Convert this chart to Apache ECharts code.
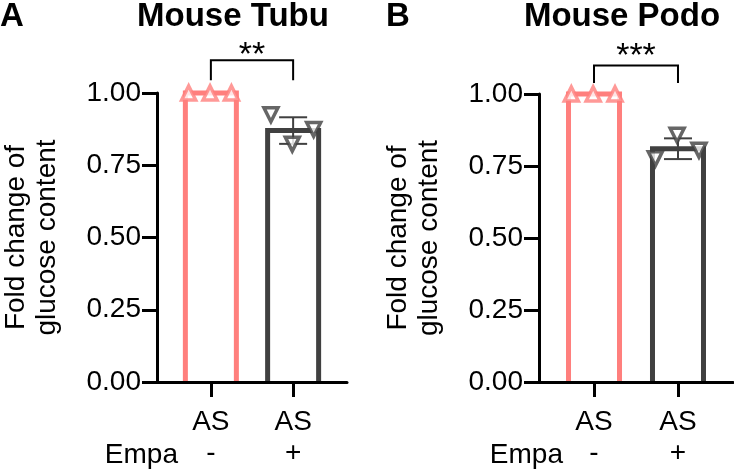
<!DOCTYPE html>
<html>
<head>
<meta charset="utf-8">
<script src="https://cdn.jsdelivr.net/npm/echarts@6/dist/echarts.min.js"></script>
<style>
html, body { margin: 0; padding: 0; background: #fff; }
#box { width: 734px; height: 469px; }
</style>
</head>
<body>
<div id="box"></div>
<script>
var groups = ['AS', 'AS']
var empa = ['-', '+']
var groupX = [1, 2]

// A - Mouse Tubu
var tubuMean = [1.0, 0.87]
var tubuSD = [0, 0.046]
var tubuPoints = [
  [1.0, 1.0, 1.0],
  [0.925, 0.823, 0.874]
]
// x1, x2, bracket top, bracket ends, stars level
var tubuBracket = [1, 2, 1.113, 1.044, 1.157]
var tubuStars = '**'

// B - Mouse Podo
var podoMean = [1.0, 0.81]
var podoSD = [0, 0.036]
var podoPoints = [
  [1.0, 1.0, 1.0],
  [0.775, 0.857, 0.805]
]
var podoBracket = [1, 2, 1.099, 1.038, 1.159]
var podoStars = '***'

var jitter = [-0.27, -0.01, 0.25]

var pink = '#FF7F7D'
var dark = '#404040'
var colors = [pink, dark]
var font = 'Liberation Sans, Arial, sans-serif'

// open bars: left, top and right sides only
function barSeries(idx, means) {
  return {
    type: 'custom',
    xAxisIndex: idx,
    yAxisIndex: idx,
    z: 2,
    silent: true,
    data: means.map(function (m, i) { return [groupX[i], m] }),
    renderItem: function (params, api) {
      var base = api.coord([api.value(0), 0])
      var top = api.coord([api.value(0), api.value(1)])
      var h = 25.5
      return {
        type: 'polyline',
        shape: {
          points: [[base[0] - h, base[1]], [top[0] - h, top[1]], [top[0] + h, top[1]], [base[0] + h, base[1]]]
        },
        style: { stroke: colors[params.dataIndex], lineWidth: 5, fill: null, lineJoin: 'miter' }
      }
    }
  }
}

function errSeries(idx, means, sds) {
  return {
    type: 'custom',
    xAxisIndex: idx,
    yAxisIndex: idx,
    z: 3,
    silent: true,
    data: means.map(function (m, i) {
      return [groupX[i], m - sds[i], m + sds[i]]
    }),
    renderItem: function (params, api) {
      var lo = api.coord([api.value(0), api.value(1)])
      var hi = api.coord([api.value(0), api.value(2)])
      if (Math.abs(hi[1] - lo[1]) < 1) return
      var w = 14
      var st = { stroke: dark, lineWidth: 2 }
      return {
        type: 'group',
        children: [
          { type: 'line', shape: { x1: lo[0], y1: lo[1], x2: hi[0], y2: hi[1] }, style: st },
          { type: 'line', shape: { x1: lo[0] - w, y1: lo[1], x2: lo[0] + w, y2: lo[1] }, style: st },
          { type: 'line', shape: { x1: hi[0] - w, y1: hi[1], x2: hi[0] + w, y2: hi[1] }, style: st }
        ]
      }
    }
  }
}

function pointSeries(idx, points) {
  var data = []
  points.forEach(function (arr, i) {
    arr.forEach(function (v, j) {
      data.push({
        value: [groupX[i] + jitter[j], v],
        symbolRotate: i === 0 ? 0 : 180,
        itemStyle: { color: '#fff', borderColor: colors[i], borderWidth: 3.5 }
      })
    })
  })
  return {
    type: 'scatter',
    xAxisIndex: idx,
    yAxisIndex: idx,
    symbol: 'triangle',
    symbolSize: 14,
    clip: false,
    z: 4,
    silent: true,
    data: data
  }
}

function bracketSeries(idx, br, stars) {
  return {
    type: 'custom',
    xAxisIndex: idx,
    yAxisIndex: idx,
    clip: false,
    z: 4,
    silent: true,
    data: [br],
    renderItem: function (params, api) {
      var a = api.coord([api.value(0), api.value(3)])
      var b = api.coord([api.value(0), api.value(2)])
      var c = api.coord([api.value(1), api.value(2)])
      var d = api.coord([api.value(1), api.value(3)])
      var s = api.coord([api.value(0), api.value(4)])
      return {
        type: 'group',
        children: [
          {
            type: 'polyline',
            shape: { points: [a, b, c, d] },
            style: { stroke: '#000', lineWidth: 2, fill: null }
          },
          {
            type: 'text',
            x: (b[0] + c[0]) / 2,
            y: s[1] + 8,
            style: {
              text: stars, fill: '#000', fontSize: 34, fontFamily: font,
              align: 'center', verticalAlign: 'middle'
            }
          }
        ]
      }
    }
  }
}

function xAxis(idx) {
  return {
    gridIndex: idx,
    type: 'value',
    min: 0.345,
    max: 2.655,
    z: 5,
    splitLine: { show: false },
    axisLine: { show: true, onZero: false, lineStyle: { color: '#000', width: 3 } },
    axisTick: { show: true, length: 15, customValues: groupX, lineStyle: { color: '#000', width: 3 } },
    axisLabel: {
      customValues: groupX,
      margin: 25,
      color: '#000',
      fontSize: 28,
      lineHeight: 31,
      fontFamily: font,
      formatter: function (v) {
        var i = groupX.indexOf(v)
        return groups[i] + '\n' + empa[i]
      }
    }
  }
}

function yAxis(idx) {
  return {
    gridIndex: idx,
    type: 'value',
    min: 0,
    max: 1,
    interval: 0.25,
    z: 5,
    name: 'Fold change of\nglucose content',
    nameLocation: 'middle',
    nameGap: 94,
    nameTextStyle: { color: '#000', fontSize: 28, lineHeight: 31, fontFamily: font },
    splitLine: { show: false },
    axisLine: { show: true, lineStyle: { color: '#000', width: 3 } },
    axisTick: { show: true, length: 15, lineStyle: { color: '#000', width: 3 } },
    axisLabel: {
      margin: 16,
      color: '#000',
      fontSize: 28,
      fontFamily: font,
      formatter: function (v) { return v.toFixed(2) }
    }
  }
}

function label(text, x, y, opts) {
  return {
    type: 'text',
    x: x,
    y: y,
    style: Object.assign({
      text: text, fill: '#000', fontFamily: font, fontSize: 28,
      align: 'center', verticalAlign: 'middle'
    }, opts || {})
  }
}

var option = {
  backgroundColor: '#fff',
  animation: false,
  grid: [
    { left: 153, top: 93, width: 194, height: 293 },
    { left: 539, top: 94, width: 194, height: 292 }
  ],
  xAxis: [xAxis(0), xAxis(1)],
  yAxis: [yAxis(0), yAxis(1)],
  graphic: [
    label('A', 0, 17, { align: 'left', fontSize: 33, fontWeight: 'bold' }),
    label('Mouse Tubu', 233, 17, { fontSize: 33, fontWeight: 'bold' }),
    label('B', 386, 17, { align: 'left', fontSize: 33, fontWeight: 'bold' }),
    label('Mouse Podo', 622, 17, { fontSize: 33, fontWeight: 'bold' }),
    label('Empa', 178, 455, { align: 'right' }),
    label('Empa', 563, 455, { align: 'right' })
  ],
  series: [
    barSeries(0, tubuMean),
    errSeries(0, tubuMean, tubuSD),
    pointSeries(0, tubuPoints),
    bracketSeries(0, tubuBracket, tubuStars),
    barSeries(1, podoMean),
    errSeries(1, podoMean, podoSD),
    pointSeries(1, podoPoints),
    bracketSeries(1, podoBracket, podoStars)
  ]
}

var chart = echarts.init(document.getElementById('box'))
chart.setOption(option)
</script>
</body>
</html>
